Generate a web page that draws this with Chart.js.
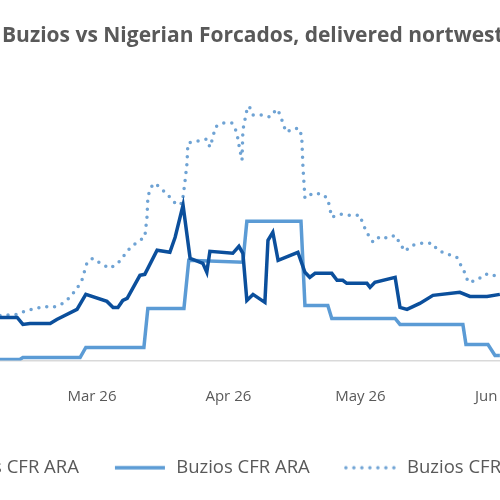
<!DOCTYPE html>
<html>
<head>
  <meta charset="UTF-8">
  <script src="https://cdn.jsdelivr.net/npm/chart.js"></script>
  <style>
    body { margin: 0; background: #fff; }
    #marco { width: 500px; height: 500px; overflow: hidden; position: relative; }
    #lienzo { position: absolute; left: -174px; top: 0; }
  </style>
</head>
<body>
  <div id="marco"><canvas id="lienzo" width="800" height="500"></canvas></div>
  <script>
    // dias desde el 1 de marzo
    const mesesDias = [0, 31, 61, 92];
    const mesesEtiquetas = ['Mar 26', 'Apr 26', 'May 26', 'Jun 26'];

    const forcadosDias = [-20.9,-17,-15.7,-14.1,-9.5,-8,-3.4,-1.4,3.4,4.8,5.9,7,8,10.9,12,14.8,17.7,18.9,20.7,22.3,25.2,26.1,26.8,32,33.4,34.3,35.2,36.6,39.3,40,41.1,42.3,46.8,48.4,49.5,50.7,54.5,55.7,57,57.9,62.5,63.2,64.3,68.9,70,71.6,74.5,77.5,83.6,85.9,89.8,92.7];
    const forcadosValores = [43,43,36,37,37,41,51,66,59,53,53,60,62,85,86,110,108,123,155,102,97,88,109,107,114,107,60,66,58,120,128,100,108,88,83,87,87,80,80,77,77,73,78,83,53,51,57,65,68,64,64,66];

    const buziosAraDias = [-20.9,-16.4,-15.7,-2.7,-1.4,11.8,12.7,20.9,22,34.3,35.2,47.5,48.4,53.6,54.5,68.9,70,84.3,85,90,91.6,92.7];
    const buziosAraValores = [1,1,3,3,13,13,52,52,100,98,139,139,55,55,42,42,36,36,16,16,5,5];

    const buziosOtroDias = [-20.9,-17,-14.8,-10.7,-8.9,-6.6,-5,-3.4,-2.3,-1.1,0.2,2.3,4.1,5.9,8.6,10.2,12,12.5,12.7,13.2,14.3,16.1,17.7,19.3,20.5,21.1,21.6,21.8,23.9,26.1,26.8,27.5,28,29.5,31.8,32.9,33.6,34.1,34.3,35.2,35.7,36.6,38.9,40.5,42,42.7,44.1,46.1,47.3,47.7,47.95,48.4,50.2,52.5,53.6,54.5,56.4,58.6,60.9,61.6,62.7,63.9,65.5,67.3,68.9,70,71.1,72.7,75,77.3,78.6,80.9,82.9,84.8,85.5,87.5,89.3,91.1,92.7];
    const buziosOtroValores = [45,46,50,54,53,57,63,72,80,98,102,96,92,97,112,118,123,143,162,172,177,170,163,155,157,177,197,217,219,221,213,223,233,237,237,228,210,200,230,250,254,245,245,243,251,246,228,232,231,220,193,162,167,166,161,143,146,145,145,136,126,118,124,122,125,117,109,115,117,117,110,106,103,87,78,80,86,86,80];

    const pares = (xs, ys) => xs.map((x, i) => ({ x: x, y: ys[i] }));

    // muestra de leyenda: linea o puntos
    function muestra(color, punteada) {
      const c = document.createElement('canvas');
      c.width = 54; c.height = 8;
      const ctx = c.getContext('2d');
      ctx.strokeStyle = color; ctx.lineWidth = 3.5; ctx.lineCap = punteada ? 'round' : 'butt';
      if (punteada) ctx.setLineDash([0, 8]);
      ctx.beginPath(); ctx.moveTo(2, 4); ctx.lineTo(52, 4); ctx.stroke();
      return c;
    }

    const titulo = {
      id: 'titulo',
      afterDraw(chart) {
        const ctx = chart.ctx;
        ctx.save();
        ctx.font = 'bold 21px "Open Sans", sans-serif';
        ctx.fillStyle = '#595959';
        ctx.textBaseline = 'middle';
        ctx.fillText('Buzios vs Nigerian Forcados, delivered nortwest Europe', 176, 36);
        ctx.restore();
      }
    };

    new Chart(document.getElementById('lienzo'), {
      type: 'line',
      data: {
        datasets: [
          {
            label: 'Forcados CFR ARA',
            data: pares(forcadosDias, forcadosValores),
            borderColor: '#0b4f9c', borderWidth: 3.5, pointRadius: 0, tension: 0,
            pointStyle: muestra('#0b4f9c', false)
          },
          {
            label: 'Buzios CFR ARA',
            data: pares(buziosAraDias, buziosAraValores),
            borderColor: '#5b9bd5', borderWidth: 3.5, pointRadius: 0, tension: 0,
            pointStyle: muestra('#5b9bd5', false)
          },
          {
            label: 'Buzios CFR NWE',
            data: pares(buziosOtroDias, buziosOtroValores),
            borderColor: '#6fa3d4', borderWidth: 3.5, pointRadius: 0, tension: 0,
            borderDash: [0, 8], borderCapStyle: 'round',
            pointStyle: muestra('#6fa3d4', true)
          }
        ]
      },
      options: {
        responsive: false,
        animation: false,
        layout: { padding: { top: 100, left: 0, right: 0, bottom: 13 } },
        scales: {
          x: {
            type: 'linear', min: -60.45, max: 121.37,
            afterBuildTicks: (eje) => { eje.ticks = mesesDias.map(v => ({ value: v })); },
            ticks: {
              callback: (v) => mesesEtiquetas[mesesDias.indexOf(v)],
              color: '#595959', font: { size: 15, family: '"Open Sans", sans-serif' },
              maxRotation: 0, padding: 19
            },
            grid: { display: false },
            border: { color: '#d9d9d9', width: 1.5 }
          },
          y: { display: false, min: 0, max: 260 }
        },
        plugins: {
          legend: {
            position: 'bottom',
            align: 'start',
            labels: {
              usePointStyle: true, pointStyleWidth: 54,
              color: '#595959', font: { size: 18.5, family: '"Open Sans", sans-serif' },
              padding: 34
            }
          },
          tooltip: { enabled: false }
        }
      },
      plugins: [titulo]
    });
  </script>
</body>
</html>
